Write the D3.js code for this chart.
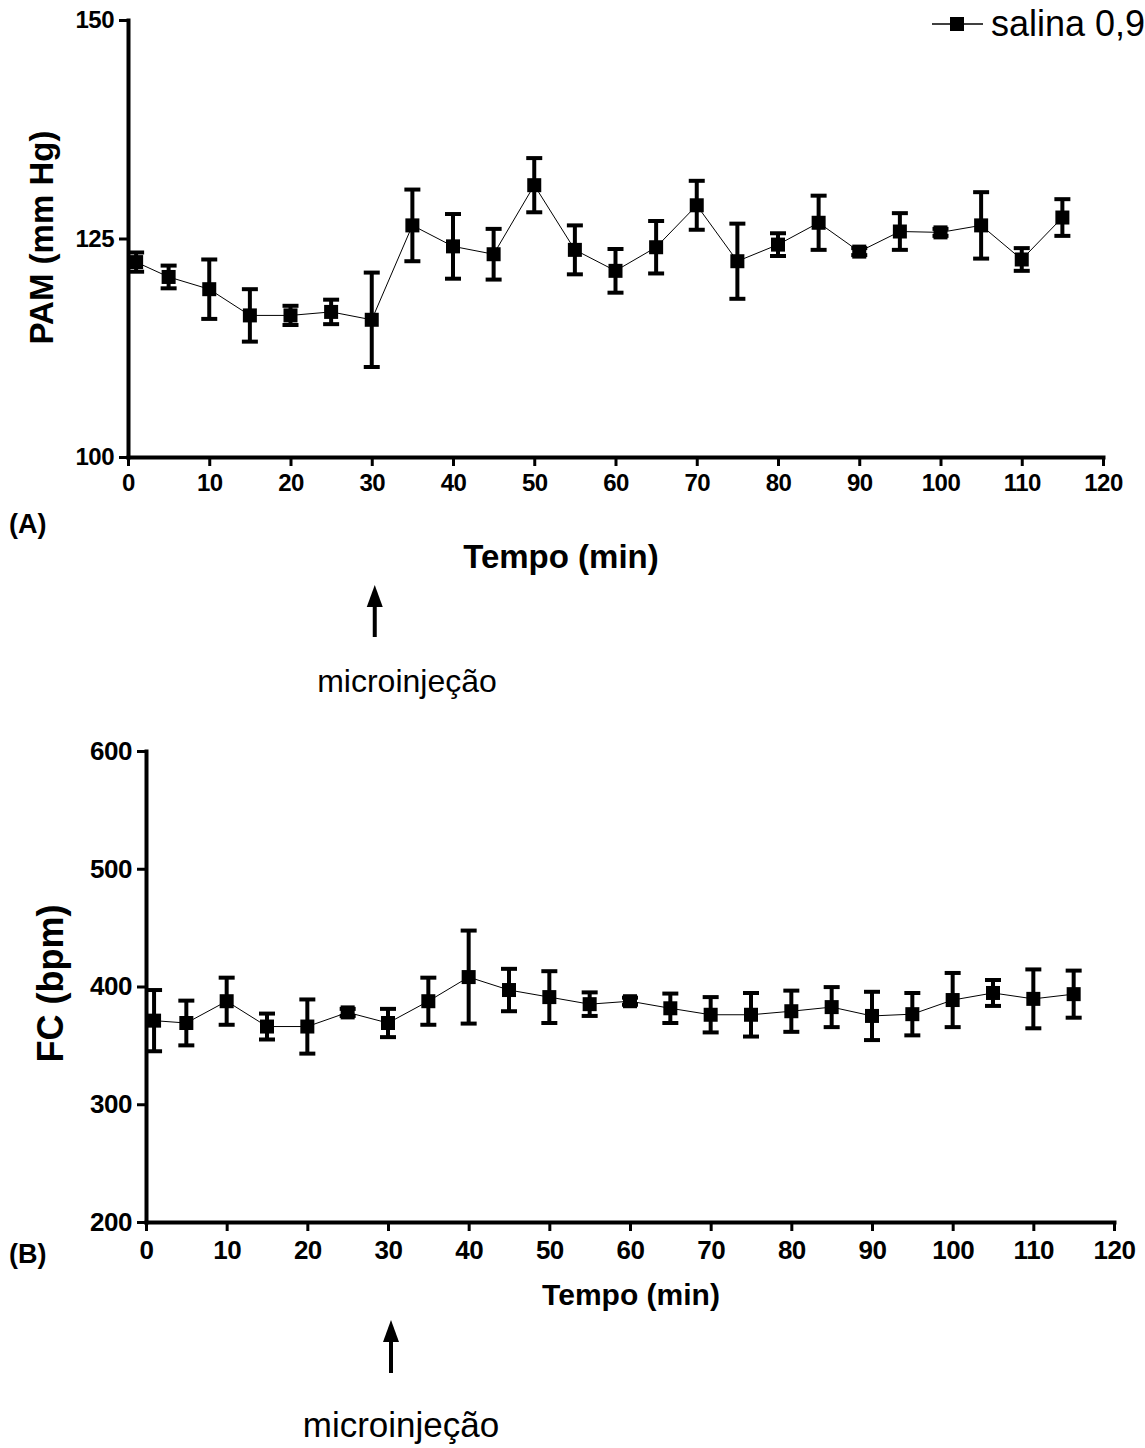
<!DOCTYPE html>
<html>
<head>
<meta charset="utf-8">
<script src="https://cdn.jsdelivr.net/npm/d3@7"></script>
<style>
  body { margin: 0; background: #fff; }
  svg { display: block; font-family: "Liberation Sans", Arial, sans-serif; }
</style>
</head>
<body>
<div id="app"></div>
<script>
// dados
const times = [1, 5, 10, 15, 20, 25, 30, 35, 40, 45, 50, 55, 60, 65, 70, 75, 80, 85, 90, 95, 100, 105, 110, 115]
const pamMean = [122.3, 120.6, 119.2, 116.2, 116.2, 116.6, 115.7, 126.5, 124.1, 123.2, 131.1, 123.7,
                 121.3, 124.0, 128.8, 122.4, 124.3, 126.8, 123.5, 125.8, 125.7, 126.5, 122.6, 127.4]
const pamSem = [1.1, 1.3, 3.4, 3.0, 1.1, 1.4, 5.4, 4.1, 3.7, 2.9, 3.1, 2.8,
                2.5, 3.0, 2.8, 4.3, 1.3, 3.1, 0.4, 2.1, 0.4, 3.8, 1.3, 2.1]
const fcMean = [371, 369, 387.5, 366, 366, 378, 369, 387.5, 408, 397, 391, 385,
                387.5, 381.5, 376, 376, 379, 382.5, 375, 376.5, 388.5, 394.5, 389.5, 393.5]
const fcSem = [26, 19, 20, 11, 23, 3, 12, 20, 39.5, 18, 22, 10,
               3, 12.5, 15, 18.5, 17.5, 17, 20.5, 18, 23, 11, 25, 20]
const timeTicks = [0, 10, 20, 30, 40, 50, 60, 70, 80, 90, 100, 110, 120]
const pamTicks = [100, 125, 150]
const fcTicks = [200, 300, 400, 500, 600]
const injectionTime = 30
const seriesName = 'salina 0,9%'

const svg = d3.select('#app')
  .append('svg')
    .attr('width', 1145)
    .attr('height', 1448)

function panel(cfg) {
  const x = d3.scaleLinear().domain([0, 120]).range(cfg.xRange)
  const y = d3.scaleLinear().domain(cfg.yDomain).range(cfg.yRange)
  const g = svg.append('g')

  // eixo x
  const xAxis = g.append('g')
    .attr('transform', `translate(0, ${cfg.yRange[0]})`)
    .call(d3.axisBottom(x).tickValues(timeTicks).tickSize(9).tickSizeOuter(0).tickPadding(cfg.xPad))
  // eixo y
  const yAxis = g.append('g')
    .attr('transform', `translate(${cfg.xRange[0]}, 0)`)
    .call(d3.axisLeft(y).tickValues(cfg.yTicks).tickSize(9).tickSizeOuter(0).tickPadding(5))

  ;[xAxis, yAxis].forEach(a => {
    a.select('.domain').attr('stroke', '#000').attr('stroke-width', 4).attr('stroke-linecap', 'square')
    a.selectAll('.tick line').attr('stroke', '#000').attr('stroke-width', 3)
    a.selectAll('.tick text')
      .attr('fill', '#000')
      .attr('font-family', '"Liberation Sans", Arial, sans-serif')
      .attr('font-weight', 'bold')
      .attr('letter-spacing', -0.5)
  })
  xAxis.selectAll('.tick text').attr('font-size', cfg.xTickSize)
  yAxis.selectAll('.tick text').attr('font-size', cfg.yTickSize)

  // barras de erro
  const cap = 8
  const bars = g.selectAll('.err')
    .data(times)
    .join('g')
      .attr('class', 'err')
  bars.append('line')
    .attr('x1', d => x(d)).attr('x2', d => x(d))
    .attr('y1', (d, i) => y(cfg.mean[i] + cfg.sem[i]))
    .attr('y2', (d, i) => y(cfg.mean[i] - cfg.sem[i]))
    .attr('stroke', '#000').attr('stroke-width', 4)
  ;[1, -1].forEach(s => {
    bars.append('line')
      .attr('x1', d => x(d) - cap).attr('x2', d => x(d) + cap)
      .attr('y1', (d, i) => y(cfg.mean[i] + s * cfg.sem[i]))
      .attr('y2', (d, i) => y(cfg.mean[i] + s * cfg.sem[i]))
      .attr('stroke', '#000').attr('stroke-width', 4)
  })

  // linha
  g.append('path')
    .datum(times)
    .attr('fill', 'none')
    .attr('stroke', '#000')
    .attr('stroke-width', 1)
    .attr('d', d3.line().x(d => x(d)).y((d, i) => y(cfg.mean[i])))

  // marcadores
  const m = cfg.marker
  g.selectAll('.dot')
    .data(times)
    .join('rect')
      .attr('class', 'dot')
      .attr('x', d => x(d) - m / 2)
      .attr('y', (d, i) => y(cfg.mean[i]) - m / 2)
      .attr('width', m)
      .attr('height', m)
      .attr('fill', '#000')

  // rótulo eixo y
  g.append('text')
    .attr('transform', `translate(${cfg.yLabelX}, ${(cfg.yRange[0] + cfg.yRange[1]) / 2 + cfg.yLabelShift}) rotate(-90)`)
    .attr('text-anchor', 'middle')
    .attr('font-weight', 'bold')
    .attr('font-size', cfg.yLabelSize)
    .text(cfg.yLabel)

  // rótulo eixo x
  g.append('text')
    .attr('x', cfg.xLabelX)
    .attr('y', cfg.xLabelY)
    .attr('text-anchor', 'middle')
    .attr('font-weight', 'bold')
    .attr('font-size', cfg.xLabelSize)
    .text('Tempo (min)')

  // letra do painel
  g.append('text')
    .attr('x', 9)
    .attr('y', cfg.letterY)
    .attr('font-weight', 'bold')
    .attr('font-size', 27)
    .text(cfg.letter)

  // seta da microinjeção
  const ax = x(injectionTime) + 3
  g.append('line')
    .attr('x1', ax).attr('x2', ax)
    .attr('y1', cfg.arrowTop + 16).attr('y2', cfg.arrowBottom)
    .attr('stroke', '#000').attr('stroke-width', 4)
  g.append('path')
    .attr('d', `M${ax},${cfg.arrowTop} L${ax - 8},${cfg.arrowTop + 22} L${ax + 8},${cfg.arrowTop + 22} Z`)
    .attr('fill', '#000')
  g.append('text')
    .attr('x', cfg.microX)
    .attr('y', cfg.microY)
    .attr('text-anchor', 'middle')
    .attr('font-size', cfg.microSize)
    .text('microinjeção')

  return { x, y }
}

panel({
  xRange: [128, 1103], yDomain: [100, 150], yRange: [457, 20], yTicks: pamTicks,
  mean: pamMean, sem: pamSem, marker: 14,
  xPad: 8, xTickSize: 24, yTickSize: 24,
  yLabel: 'PAM (mm Hg)', yLabelX: 53, yLabelShift: -1, yLabelSize: 33,
  xLabelX: 561, xLabelY: 568, xLabelSize: 33,
  letter: '(A)', letterY: 533,
  arrowTop: 585, arrowBottom: 637,
  microX: 407, microY: 692, microSize: 32
})

panel({
  xRange: [146, 1114], yDomain: [200, 600], yRange: [1222, 751], yTicks: fcTicks,
  mean: fcMean, sem: fcSem, marker: 14,
  xPad: 10, xTickSize: 26, yTickSize: 26,
  yLabel: 'FC (bpm)', yLabelX: 63, yLabelShift: -3, yLabelSize: 36,
  xLabelX: 631, xLabelY: 1305, xLabelSize: 30,
  letter: '(B)', letterY: 1263,
  arrowTop: 1320, arrowBottom: 1373,
  microX: 401, microY: 1437, microSize: 35
})

// legenda (o texto sai pela borda direita, como no original)
const leg = svg.append('g')
leg.append('line')
  .attr('x1', 932).attr('x2', 983).attr('y1', 24).attr('y2', 24)
  .attr('stroke', '#000').attr('stroke-width', 1.5)
leg.append('rect')
  .attr('x', 950).attr('y', 17).attr('width', 14).attr('height', 14)
  .attr('fill', '#000')
leg.append('text')
  .attr('x', 991).attr('y', 36)
  .attr('font-size', 36)
  .text(seriesName)
</script>
</body>
</html>
